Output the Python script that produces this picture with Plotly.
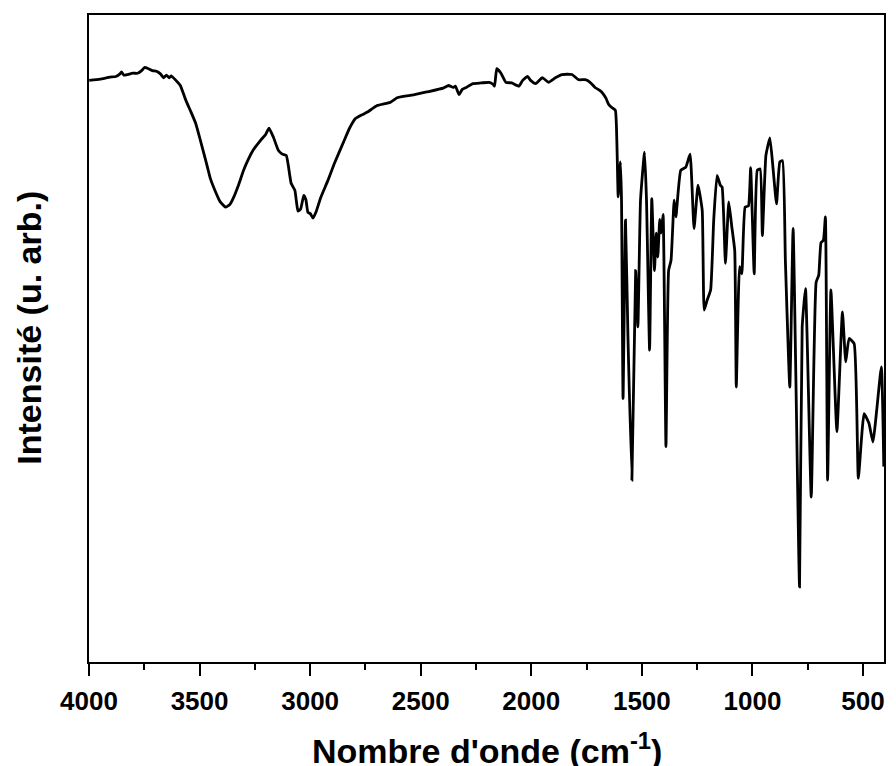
import plotly.graph_objects as go

# Wavenumber (cm-1) and intensity (arb. units, 0-100 of frame height)
wavenumber = [
    3999, 3950, 3905, 3878, 3860, 3853, 3842, 3825, 3802, 3780, 3762, 3748, 3731, 3713, 3695,
    3677, 3663, 3650, 3637, 3628, 3607, 3587, 3562, 3540, 3517, 3496, 3472, 3451, 3427, 3408,
    3383, 3363, 3346, 3323, 3301, 3278, 3256, 3225, 3202, 3186, 3166, 3144, 3126, 3108, 3099,
    3086, 3069, 3061, 3055, 3043, 3029, 3019, 3010, 2999, 2987, 2974, 2952, 2920, 2890, 2846,
    2822, 2795, 2764, 2741, 2697, 2638, 2607, 2585, 2540, 2473, 2398, 2374, 2353, 2343, 2327,
    2312, 2294, 2264, 2226, 2191, 2173, 2166, 2156, 2137, 2115, 2088, 2056, 2039, 2017, 2003,
    1980, 1950, 1922, 1891, 1861, 1816, 1786, 1756, 1734, 1712, 1689, 1675, 1662, 1652, 1636,
    1620, 1615, 1611, 1607, 1597, 1592, 1585, 1574, 1563, 1545, 1528, 1518, 1506, 1488, 1479,
    1465, 1455, 1443, 1435, 1428, 1419, 1413, 1404, 1391, 1379, 1368, 1354, 1346, 1324, 1301,
    1282, 1264, 1246, 1227, 1218, 1205, 1189, 1175, 1160, 1145, 1137, 1122, 1107, 1093, 1080,
    1073, 1058, 1048, 1033, 1018, 1008, 992, 978, 965, 955, 939, 921, 906, 891, 876,
    864, 851, 831, 816, 787, 775, 760, 734, 712, 700, 690, 679, 670, 660, 645,
    618, 593, 578, 563, 540, 521, 495, 473, 455, 417, 406,
]
intensity = [
    89.9, 90.1, 90.4, 90.5, 90.9, 91.2, 90.7, 90.8, 91.0, 91.0, 91.4, 91.9, 91.7, 91.4, 91.3,
    90.9, 90.3, 90.7, 90.3, 90.6, 89.9, 89.1, 86.8, 85.1, 83.2, 80.6, 77.5, 74.7, 72.6, 71.2,
    70.3, 70.7, 71.8, 73.8, 76.0, 77.8, 79.2, 80.6, 81.5, 82.5, 81.1, 79.1, 78.5, 78.3, 76.8,
    74.0, 72.9, 70.9, 69.7, 70.0, 72.1, 71.4, 69.5, 69.3, 68.6, 69.5, 71.8, 74.4, 77.1, 80.6,
    82.5, 84.0, 84.6, 85.0, 86.0, 86.5, 87.2, 87.4, 87.6, 88.1, 88.7, 89.1, 88.8, 89.0, 87.7,
    88.5, 88.8, 89.4, 89.5, 89.6, 89.3, 89.0, 91.7, 91.0, 89.6, 89.5, 89.0, 89.9, 90.5, 89.9,
    89.4, 90.3, 89.6, 90.3, 90.8, 90.8, 90.0, 90.0, 89.6, 88.8, 88.3, 87.8, 87.1, 86.3, 85.7,
    85.3, 82.9, 77.5, 71.9, 77.3, 71.4, 40.7, 68.3, 50.5, 28.1, 60.5, 51.8, 71.4, 78.8, 71.4,
    48.2, 71.6, 60.5, 66.3, 62.6, 68.4, 66.3, 69.2, 33.3, 60.5, 62.1, 71.4, 68.8, 76.0, 76.5,
    78.5, 67.0, 73.7, 69.8, 54.4, 55.9, 57.5, 68.3, 75.2, 73.7, 73.4, 61.6, 71.1, 67.2, 63.6,
    42.5, 61.1, 60.0, 70.3, 70.5, 76.4, 60.0, 76.0, 76.2, 65.9, 78.3, 81.0, 76.0, 70.8, 77.3,
    77.5, 62.1, 42.5, 67.0, 11.6, 51.8, 57.7, 25.5, 58.7, 59.8, 64.8, 65.2, 68.8, 28.1, 57.5,
    35.6, 54.1, 46.4, 50.0, 49.2, 28.4, 38.4, 36.9, 34.0, 45.6, 30.2,
]

x_range = [4000, 405]
major_ticks = [4000, 3500, 3000, 2500, 2000, 1500, 1000, 500]
x_title = "Nombre d'onde (cm<sup>-1</sup>)"
y_title = "Intensité (u. arb.)"

font_family = "Arial, Liberation Sans, sans-serif"

fig = go.Figure()
fig.add_trace(go.Scatter(
    x=wavenumber, y=intensity, mode="lines",
    line=dict(color="black", width=2.8, shape="spline", smoothing=0.4),
    showlegend=False, hoverinfo="skip",
))

# the page body adds an 8 px offset; keep the figure inside the visible area
fig.update_layout(
    width=880, height=758,
    margin=dict(l=81, r=2, t=7, b=104),
    paper_bgcolor="white", plot_bgcolor="white",
    font=dict(family=font_family, color="black"),
    annotations=[
        dict(text=f"<b>{x_title}</b>", xref="paper", yref="paper", x=0.5, y=-0.134,
             xanchor="center", yanchor="middle", showarrow=False,
             font=dict(size=34, family=font_family, color="black")),
        dict(text=f"<b>{y_title}</b>", xref="paper", yref="paper", x=-0.0765, y=0.517,
             xanchor="center", yanchor="middle", showarrow=False, textangle=-90,
             font=dict(size=34, family=font_family, color="black")),
    ],
)

fig.update_xaxes(
    range=x_range, autorange=False,
    tickmode="array", tickvals=major_ticks,
    ticks="outside", ticklen=12, tickwidth=2, tickcolor="black",
    minor=dict(dtick=250, tick0=0, ticks="outside", ticklen=6, tickwidth=2, tickcolor="black"),
    tickfont=dict(size=26, family=font_family, color="black", weight="bold"),
    ticklabelstandoff=3,
    showline=True, linewidth=2, linecolor="black", mirror=True,
    showgrid=False, zeroline=False,
)
fig.update_yaxes(
    range=[0, 100], autorange=False,
    showticklabels=False, ticks="",
    showline=True, linewidth=2, linecolor="black", mirror=True,
    showgrid=False, zeroline=False,
)

fig.write_html("out.html")
